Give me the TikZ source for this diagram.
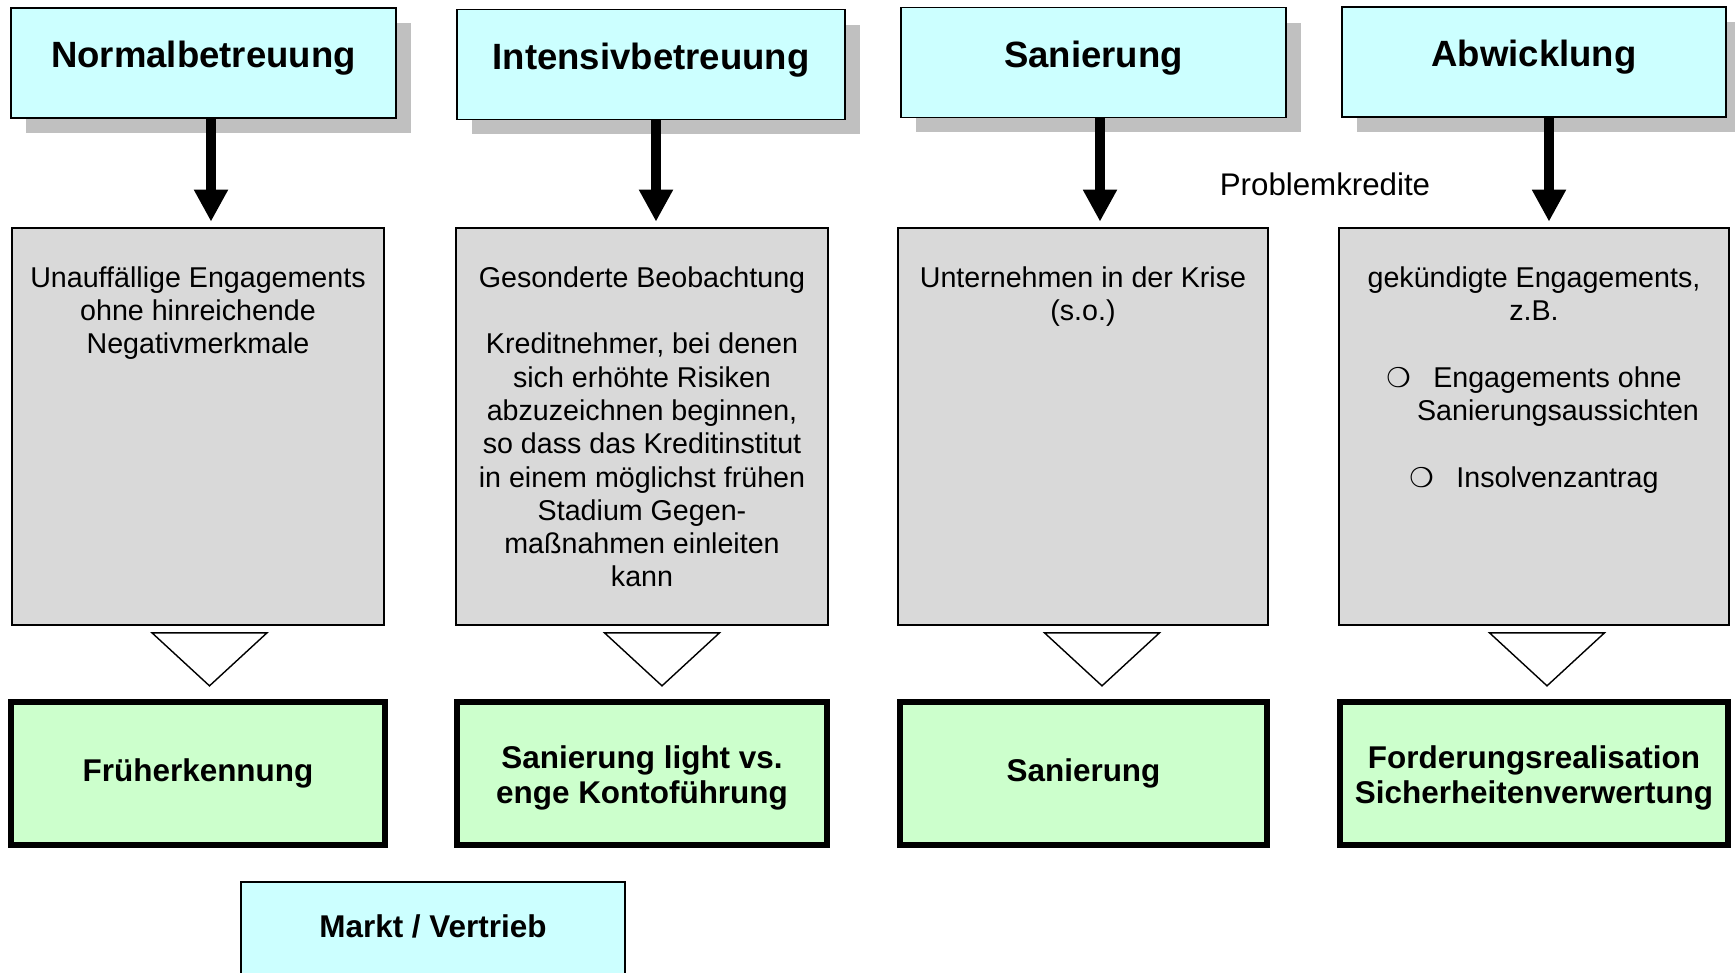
\documentclass[tikz,border=0pt]{standalone}
\usepackage{fontspec}
\setmainfont{Liberation Sans}
\newfontfamily\dingfont{DejaVu Sans Bold}
\usetikzlibrary{positioning,shadows,arrows.meta}
\definecolor{ccyan}{HTML}{CCFFFF}
\definecolor{cgreen}{HTML}{CCFFCC}
\definecolor{cpanel}{HTML}{D9D9D9}
\definecolor{cshadow}{HTML}{C0C0C0}
\newcommand{\ringbul}{{\dingfont\fontsize{15.5}{19}\selectfont ❍}}

\begin{document}
\begin{tikzpicture}[
  x=0.02cm,y=-0.02cm,
  phase/.style={draw,line width=1.1pt,fill=ccyan,minimum width=7.7cm,minimum height=2.2cm,
    font=\fontsize{20.8}{25}\selectfont\bfseries,text height=0.5cm,text depth=0.3cm,
    drop shadow={shadow xshift=0.3cm,shadow yshift=-0.3cm,fill=cshadow,opacity=1}},
  panel/.style={draw,line width=1pt,fill=cpanel,minimum width=7.44cm,minimum height=7.94cm},
  ptext/.style={align=center,inner sep=0pt,font=\fontsize{16.3}{18.95}\selectfont},
  measure/.style={draw,line width=3.4pt,fill=cgreen,minimum width=7.48cm,minimum height=2.86cm,
    align=center,font=\fontsize{17.9}{20.1}\selectfont\bfseries},
  down/.style={line width=5.7pt,-{Triangle[width=0.64cm,length=0.64cm]},shorten >=0.11cm},
  funnel/.style={draw,line width=0.8pt,fill=white,line join=miter}]
  \useasboundingbox (0,0) rectangle (1735,973);
  % Betreuungsstufen
  \node[phase] (nb) at (203.5,63) {Normalbetreuung};
  \node[phase,minimum width=7.76cm] (ib) at (651,64.5) {Intensivbetreuung};
  \node[phase] (sb) at (1093.5,62.5) {Sanierung};
  \node[phase,minimum width=7.68cm] (ab) at (1534,62) {Abwicklung};
  \node[font=\fontsize{17.8}{21}\selectfont] (pk) at (1325,184) {Problemkredite};
  % Beschreibung
  \node[panel] (gr1) at (198,426.5) {};
  \node[panel] (gr2) at (642,426.5) {};
  \node[panel,minimum width=7.4cm] (gr3) at (1083,426.5) {};
  \node[panel,minimum width=7.8cm] (gr4) at (1534,426.5) {};
  \node[ptext,below=0.78cm of gr1.north] (tx1) {Unauffällige Engagements\\ohne hinreichende\\Negativmerkmale};
  \node[ptext,below=0.78cm of gr2.north] (tx2) {Gesonderte Beobachtung\\[19pt]Kreditnehmer, bei denen\\sich erhöhte Risiken\\abzuzeichnen beginnen,\\so dass das Kreditinstitut\\in einem möglichst frühen\\Stadium Gegen-\\maßnahmen einleiten\\kann};
  \node[ptext,below=0.78cm of gr3.north] (tx3) {Unternehmen in der Krise\\(s.o.)};
  \node[ptext,below=0.78cm of gr4.north] (tx4) {gekündigte Engagements,\\z.B.\\[19pt]\ringbul\hspace{0.45cm}Engagements ohne\\\hspace*{0.96cm}Sanierungsaussichten\\[19pt]\ringbul\hspace{0.45cm}Insolvenzantrag};
  % Massnahmen
  \node[measure] (gn1) at (198,773.5) {Früherkennung};
  \node[measure,minimum width=7.4cm] (gn2) at (642,773.5) {\rule{0pt}{0.62cm}Sanierung light vs.\\enge Kontoführung};
  \node[measure,minimum width=7.34cm] (gn3) at (1083.5,773.5) {Sanierung};
  \node[measure,minimum width=7.76cm] (gn4) at (1534,773.5) {\rule{0pt}{0.62cm}Forderungsrealisation\\Sicherheitenverwertung};
  \node[draw,line width=1.1pt,fill=ccyan,minimum width=7.68cm,minimum height=2.16cm,
    font=\fontsize{17.9}{21}\selectfont\bfseries,text height=0.4cm,text depth=0.36cm] (mv) at (433,936) {Markt / Vertrieb};
  % Pfeile
  \draw[down] ([shift={(7.5,0)}]nb.south) -- ([shift={(7.5,0)}]nb.south |- gr1.north);
  \draw[down] ([shift={(5,0)}]ib.south) -- ([shift={(5,0)}]ib.south |- gr2.north);
  \draw[down] ([shift={(6.5,0)}]sb.south) -- ([shift={(6.5,0)}]sb.south |- gr3.north);
  \draw[down] ([shift={(15,0)}]ab.south) -- ([shift={(15,0)}]ab.south |- gr4.north);
  \draw[funnel] ([shift={(-46,7)}]gr1.south) -- ++(115,0) -- ++(-57.5,53) -- cycle;
  \draw[funnel] ([shift={(-37.5,7)}]gr2.south) -- ++(115,0) -- ++(-57.5,53) -- cycle;
  \draw[funnel] ([shift={(-38.5,7)}]gr3.south) -- ++(115,0) -- ++(-57.5,53) -- cycle;
  \draw[funnel] ([shift={(-44.5,7)}]gr4.south) -- ++(115,0) -- ++(-57.5,53) -- cycle;
\end{tikzpicture}
\end{document}
